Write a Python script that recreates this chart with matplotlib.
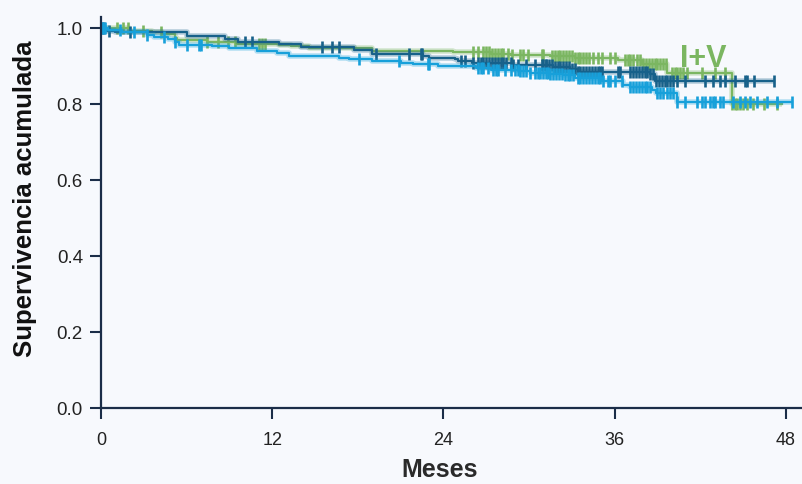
import numpy as np
import matplotlib
matplotlib.use("Agg")
import matplotlib.pyplot as plt

# Kaplan-Meier step curves (months, cumulative survival)
dark_t = [0, 0.3, 1.0, 6.0, 8.7, 9.6, 12.5, 14.0, 17.7, 19.0, 22.6, 23.0, 24.8, 25.0,
          26.0, 28.8, 31.7, 32.9, 33.4, 38.5, 38.8]
dark_s = [1.0, 0.994, 0.99, 0.980, 0.972, 0.965, 0.958, 0.950, 0.943, 0.932, 0.927, 0.923,
          0.918, 0.914, 0.910, 0.903, 0.898, 0.892, 0.886, 0.881, 0.862]
dark_end = 47.2
dark_cens = [0.1, 0.2, 0.56, 2.0, 10.1, 10.6, 15.5, 16.2, 16.7, 19.3, 21.6, 22.4, 22.5,
             25.2, 25.5, 26.1, 26.4, 26.6, 26.8, 27.0, 27.2, 27.4, 27.6, 27.8, 28.0, 28.2,
             28.4, 28.7, 28.9, 29.2, 29.8, 30.4, 30.9, 31.2, 31.0, 31.2, 31.4, 31.6, 31.8,
             32.0, 32.2, 32.4, 32.6, 32.8, 33.0, 33.2, 33.4, 33.6, 33.8, 34.0, 34.2, 34.4,
             34.6, 34.8, 35.0, 35.1, 36.2, 36.4, 37.1, 37.3, 37.5, 37.7, 37.9, 38.1, 38.3,
             38.5, 38.7, 38.9, 39.1, 39.3, 39.5, 39.7, 39.9, 40.1, 40.4, 40.9, 42.3, 42.9,
             43.4, 43.7, 44.4, 45.1, 45.3, 45.8, 47.2]

light_t = [0, 0.5, 1.5, 3.2, 3.7, 4.7, 5.2, 5.5, 7.8, 9.0, 10.9, 12.3, 13.2, 16.7, 17.4,
           19.0, 21.0, 21.9, 23.6, 26.3, 27.3, 29.4, 30.1, 31.4, 32.4, 33.2, 35.1, 36.6,
           37.1, 38.6, 38.9, 40.4]
light_s = [1.0, 0.995, 0.99, 0.983, 0.977, 0.973, 0.964, 0.957, 0.953, 0.948, 0.940, 0.935,
           0.927, 0.923, 0.920, 0.913, 0.910, 0.907, 0.902, 0.896, 0.891, 0.888, 0.883,
           0.880, 0.876, 0.868, 0.862, 0.852, 0.846, 0.838, 0.829, 0.807]
light_end = 48.4
light_cens = [0.05, 0.15, 0.25, 1.33, 2.3, 3.2, 4.4, 5.2, 6.0, 6.9, 7.0, 18.1, 20.9, 23.0,
              22.9, 26.4, 26.6, 26.8, 27.1, 27.5, 27.7, 27.8, 28.3, 28.7, 29.0, 29.2, 29.4,
              29.6, 29.8, 30.1, 30.4, 30.6, 30.8, 31.0, 31.2, 31.3, 31.5, 31.7, 31.9, 32.1,
              32.3, 32.5, 32.7, 32.9, 33.1, 33.4, 33.6, 33.8, 34.0, 34.2, 34.4, 34.6, 34.8,
              35.0, 35.2, 35.5, 35.7, 36.0, 36.5, 37.1, 37.3, 37.5, 37.7, 37.9, 38.1, 38.3,
              38.5, 39.0, 39.2, 39.4, 39.7, 39.9, 40.1, 40.4, 40.9, 41.8, 42.1, 42.3, 42.7,
              42.9, 43.0, 43.4, 43.6, 44.3, 44.8, 45.1, 45.5, 46.0, 46.7, 47.4, 48.4]

green_t = [0, 1.95, 3.6, 4.3, 5.2, 5.3, 7.4, 9.5, 12.5, 13.3, 14.6, 19.0, 24.7, 27.3, 28.7,
           31.5, 33.2, 36.2, 37.9, 39.7, 44.2]
green_s = [1.0, 0.993, 0.990, 0.984, 0.975, 0.968, 0.964, 0.960, 0.957, 0.953, 0.948, 0.940,
           0.937, 0.933, 0.930, 0.926, 0.922, 0.916, 0.907, 0.882, 0.802]
green_end = 47.7
green_cens = [1.1, 1.56, 1.9, 2.97, 4.2, 7.4, 8.2, 8.9, 9.4, 11.1, 11.3, 11.5, 26.1, 26.4,
              26.8, 27.0, 27.2, 27.4, 27.6, 27.8, 28.0, 28.2, 28.5, 28.8, 29.4, 29.6, 29.9,
              30.9, 31.0, 31.6, 31.8, 32.0, 32.2, 32.4, 32.6, 32.8, 33.0, 33.2, 33.4, 33.6,
              33.8, 34.0, 34.2, 34.5, 34.8, 35.1, 35.7, 36.0, 36.7, 36.9, 37.1, 37.3, 37.6,
              37.8, 38.0, 38.2, 38.4, 38.6, 38.8, 39.0, 39.2, 39.4, 39.6, 40.0, 40.2, 40.4,
              40.6, 40.8, 41.1, 42.1, 43.0, 43.7, 44.2, 44.4, 44.6, 44.8, 45.0, 45.3, 45.7,
              46.5, 47.4]

x_ticks = [0, 12, 24, 36, 48]
y_ticks = [0.0, 0.2, 0.4, 0.6, 0.8, 1.0]

GREEN = "#7bb661"
DARK = "#17618a"
LIGHT = "#17a0da"
AXIS = "#1b2d48"
BG = "#f7f9fd"

plt.rcParams["font.family"] = ["Liberation Sans", "DejaVu Sans"]

fig = plt.figure(figsize=(8.03, 4.84), dpi=100, facecolor=BG)
ax = fig.add_axes([0.1258, 0.157, 0.8742, 0.808])
ax.set_facecolor(BG)


def draw_km(t, s, end, cens, color):
    tt = list(t) + [end]
    ss = list(s) + [s[-1]]
    ax.step(tt, ss, where="post", color=color, lw=4.0, alpha=0.3, solid_capstyle="butt")
    ax.step(tt, ss, where="post", color=color, lw=1.6)
    idx = np.searchsorted(np.array(t), np.array(cens), side="right") - 1
    ax.plot(cens, np.array(s)[idx], ls="none", marker="|", ms=8, mew=1.9, color=color)


draw_km(green_t, green_s, green_end, green_cens, GREEN)
draw_km(dark_t, dark_s, dark_end, dark_cens, DARK)
draw_km(light_t, light_s, light_end, light_cens, LIGHT)

ax.text(40.6, 0.897, "I+V", color=GREEN, fontsize=22, fontweight="bold",
        ha="left", va="baseline")

ax.set_xlim(0, 49.2)
ax.set_ylim(0, 1.03)
ax.set_xticks(x_ticks)
ax.set_xticklabels([str(v) for v in x_ticks], fontsize=13)
ax.set_yticks(y_ticks)
ax.set_yticklabels([f"{v:.1f}" for v in y_ticks], fontsize=13.5)

for side in ["top", "right"]:
    ax.spines[side].set_visible(False)
for side in ["left", "bottom"]:
    ax.spines[side].set_color(AXIS)
    ax.spines[side].set_linewidth(1.6)
ax.tick_params(axis="both", colors=AXIS, width=1.5, length=8, labelcolor="#222222")
ax.tick_params(axis="x", pad=9)
ax.tick_params(axis="y", pad=5)

ax.set_xlabel("Meses", fontsize=18, fontweight="bold", color="#2a2a2a")
ax.xaxis.set_label_coords(0.483, -0.128)
ax.set_ylabel("Supervivencia acumulada", fontsize=18.5, fontweight="bold", color="#111111")
ax.yaxis.set_label_coords(-0.091, 0.535)

fig.savefig("out.png", dpi=100, facecolor=BG)
